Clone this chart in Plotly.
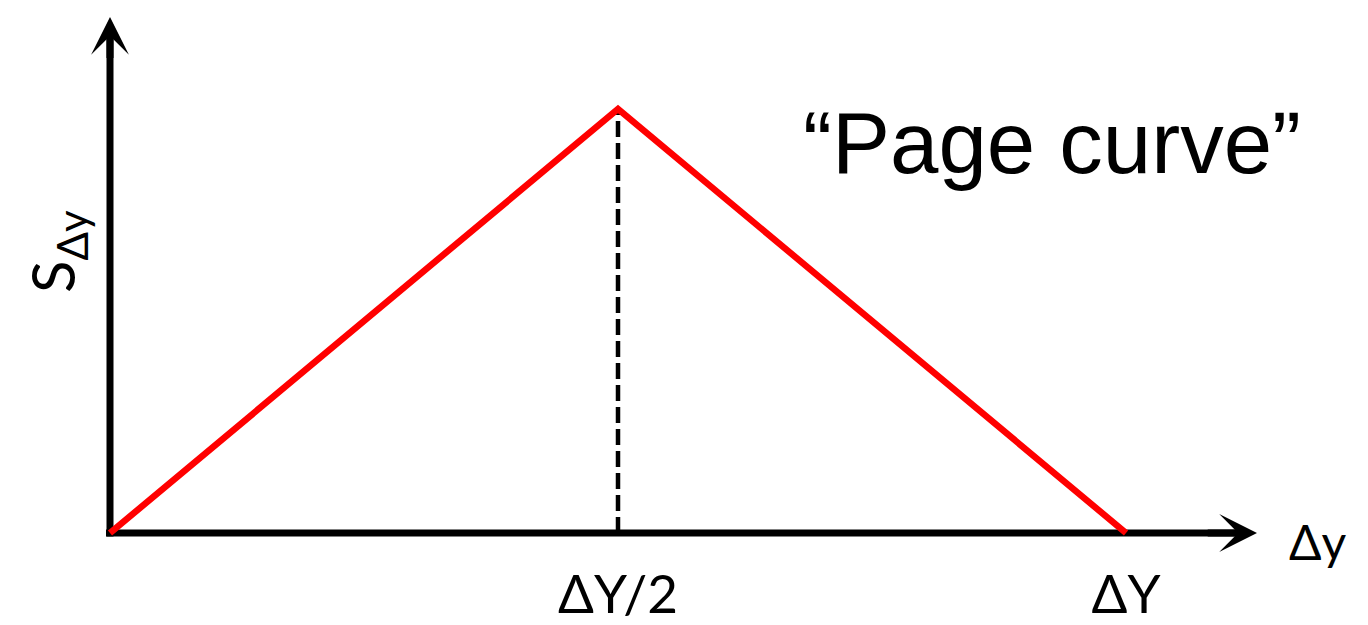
import plotly.graph_objects as go

# Page curve: entanglement entropy S_Δy versus interval length Δy
delta_y = [0.0, 0.5, 1.0]          # Δy in units of ΔY
entropy = [0.0, 1.0, 0.0]          # S_Δy, normalised to its maximum
midpoint = 0.5                     # Δy = ΔY/2
tick_vals = [0.5, 1.0]
tick_text = ["ΔY/2", "ΔY"]

W, H = 1368, 625
BOTTOM_MARGIN = 60
PLOT_H = H - BOTTOM_MARGIN
ORIGIN = (110, 533)                # pixel position of (0, 0)
UNIT = (1016, 424)                 # pixels per unit along x and y

x_range = [-ORIGIN[0] / UNIT[0], (W - ORIGIN[0]) / UNIT[0]]
y_range = [(ORIGIN[1] - PLOT_H) / UNIT[1], ORIGIN[1] / UNIT[1]]


def px_x(p):
    return p / W


def px_y(p):
    return 1 - p / PLOT_H


fig = go.Figure()

# dashed guide at the maximum
fig.add_trace(go.Scatter(
    x=[midpoint, midpoint], y=[0, max(entropy)], mode="lines",
    line=dict(color="black", width=4.5, dash="16px,6px"),
    hoverinfo="skip",
))

# the curve itself
fig.add_trace(go.Scatter(
    x=delta_y, y=entropy, mode="lines",
    line=dict(color="#ff0000", width=6.5),
    hoverinfo="skip",
))

# axis lines (under the traces)
x_tip = (1257 - ORIGIN[0]) / UNIT[0]
y_tip = (ORIGIN[1] - 17) / UNIT[1]
fig.add_shape(type="line", xref="x", yref="y", layer="below",
              x0=-4 / UNIT[0], x1=x_tip - 0.02, y0=0, y1=0,
              line=dict(color="black", width=7))
fig.add_shape(type="line", xref="x", yref="y", layer="below",
              x0=0, x1=0, y0=-3.5 / UNIT[1], y1=y_tip - 0.04,
              line=dict(color="black", width=7))

# arrow heads
fig.add_annotation(x=x_tip, y=0, ax=x_tip - 0.05, ay=0, xref="x", yref="y",
                   axref="x", ayref="y", text="", showarrow=True,
                   arrowhead=3, arrowwidth=7, arrowsize=0.9, arrowcolor="black")
fig.add_annotation(x=0, y=y_tip, ax=0, ay=y_tip - 0.1, xref="x", yref="y",
                   axref="x", ayref="y", text="", showarrow=True,
                   arrowhead=3, arrowwidth=7, arrowsize=0.9, arrowcolor="black")

# axis names and title
fig.add_annotation(x=px_x(1318), y=px_y(541), xref="paper", yref="paper",
                   text="Δy", showarrow=False, xanchor="center", yanchor="middle",
                   font=dict(family="Lato", size=48, color="black"))
fig.add_annotation(x=px_x(57), y=px_y(252), xref="paper", yref="paper",
                   text="S<sub>Δy</sub>",
                   showarrow=False, textangle=-90,
                   xanchor="center", yanchor="middle",
                   font=dict(family="Lato", size=60, color="black"))
fig.add_annotation(x=px_x(1052), y=px_y(142), xref="paper", yref="paper",
                   text="\u201cPage curve\u201d", showarrow=False,
                   xanchor="center", yanchor="middle",
                   font=dict(family="Liberation Sans", size=87, color="black"))

fig.update_layout(
    width=W, height=H,
    margin=dict(l=0, r=0, t=0, b=BOTTOM_MARGIN),
    paper_bgcolor="white", plot_bgcolor="white",
    showlegend=False,
    xaxis=dict(range=x_range, showgrid=False, zeroline=False, showline=False,
               ticks="", tickvals=tick_vals, ticktext=tick_text,
               tickfont=dict(family="Lato", size=53, color="black"),
               ticklabelstandoff=-6, automargin=False, fixedrange=True),
    yaxis=dict(range=y_range, visible=False, automargin=False, fixedrange=True),
)

fig.write_html("out.html")
